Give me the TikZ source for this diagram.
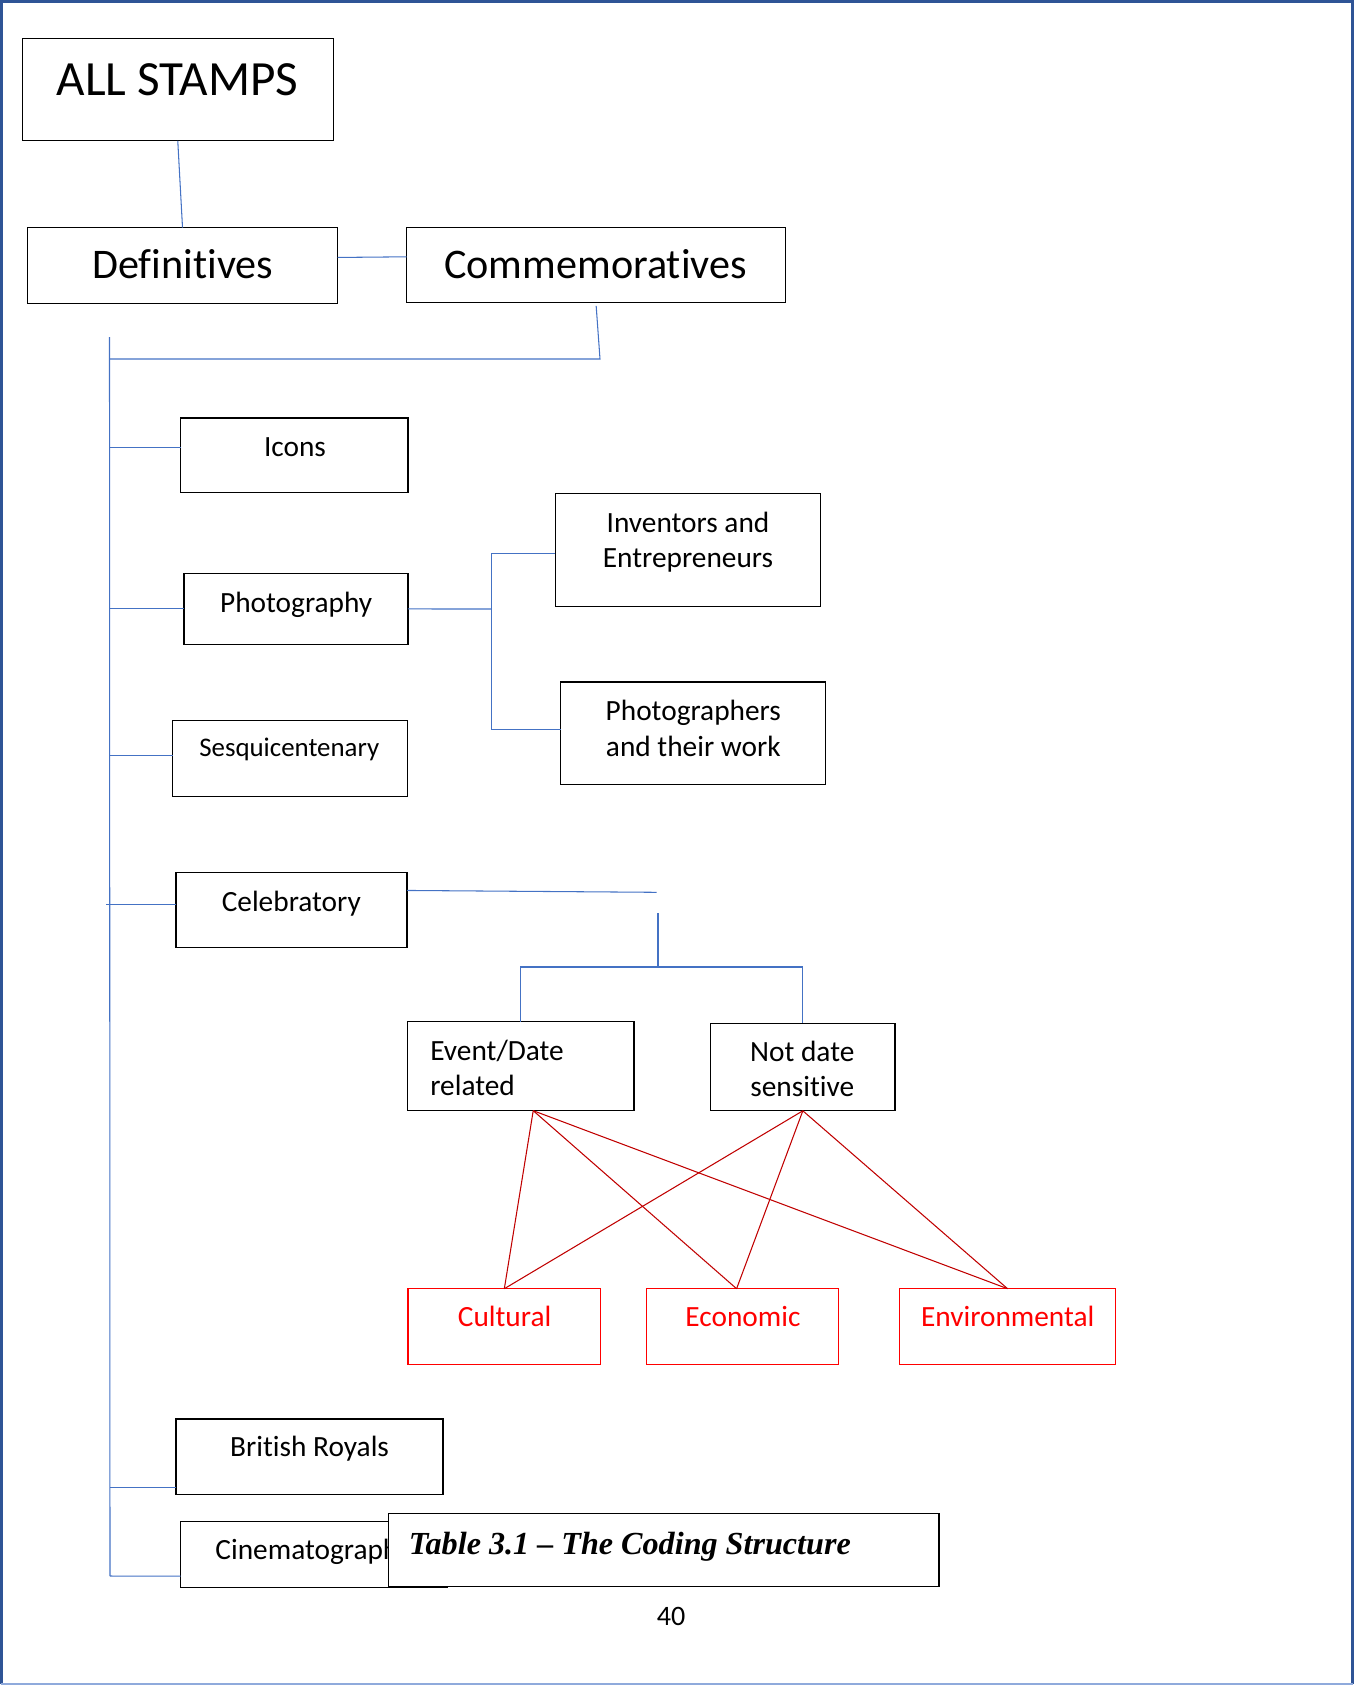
\documentclass[tikz,border=0pt]{standalone}
\usepackage{fontspec}
\setmainfont[Ligatures=NoCommon]{Carlito}
\newfontfamily\capfont{Liberation Serif}
\usepackage{tikz}
\usepackage{xcolor}
\definecolor{linkblue}{HTML}{4472C4}
\definecolor{pageblue}{HTML}{2F5496}
\definecolor{pagelight}{HTML}{8FAADC}
\definecolor{codered}{HTML}{FF0000}
\definecolor{tiered}{HTML}{C00000}

\begin{document}
\begin{tikzpicture}[x=0.02cm, y=-0.02cm,
    box/.style={draw=black, line width=0.75pt, inner sep=0pt, outer sep=0pt, anchor=north west},
    redbox/.style={box, draw=codered},
    link/.style={draw=linkblue, line width=0.6pt},
    tie/.style={draw=tiered, line width=0.6pt},
    txt/.style={inner sep=0pt, anchor=base, font=\fontsize{16.7}{20.1}\selectfont},
    redtxt/.style={txt, text=codered}]
                \useasboundingbox (0,0) rectangle (1354,1685);
                % Page frame
                \draw[pageblue, line width=1.5pt] (1.3,1684) -- (1.3,1.7) -- (1352.7,1.7) -- (1352.7,1684);
                \draw[pagelight, line width=0.8pt] (1.3,1684) -- (1352.7,1684);

                % Top of the tree
                \node[box, minimum width=6.22cm, minimum height=2.05cm] (allst) at (22.3,38.3) {};
                \node[box, minimum width=6.21cm, minimum height=1.51cm] (defin) at (27.3,227.7) {};
                \node[box, minimum width=7.58cm, minimum height=1.50cm] (comm) at (406.7,227.3) {};
                % Themes
                \node[box, minimum width=4.55cm, minimum height=1.49cm] (icons) at (180.7,418) {};
                \node[box, minimum width=4.48cm, minimum height=1.41cm] (photo) at (183.9,573.7) {};
                \node[box, minimum width=5.30cm, minimum height=2.26cm] (invent) at (555.4,493.3) {};
                \node[box, minimum width=5.30cm, minimum height=2.05cm] (photog) at (560.7,682) {};
                \node[box, minimum width=4.69cm, minimum height=1.52cm] (sesqui) at (172.8,720.3) {};
                \node[box, minimum width=4.62cm, minimum height=1.49cm] (celeb) at (176.1,872.7) {};
                \node[box, minimum width=4.53cm, minimum height=1.78cm] (event) at (407.5,1021.7) {};
                \node[box, minimum width=3.69cm, minimum height=1.75cm] (notdate) at (710.6,1023.3) {};
                \node[redbox, minimum width=3.85cm, minimum height=1.51cm] (cult) at (408.1,1288.7) {};
                \node[redbox, minimum width=3.84cm, minimum height=1.51cm] (econ) at (646.6,1288.7) {};
                \node[redbox, minimum width=4.32cm, minimum height=1.51cm] (envir) at (899.6,1288.7) {};
                \node[box, minimum width=5.34cm, minimum height=1.51cm] (royals) at (176.1,1419) {};
                \node[box, minimum width=5.33cm, minimum height=1.32cm] (cinema) at (180.7,1521.7) {};

                % Box texts (two line texts sit on their last line)
                \node[txt, font=\fontsize{28}{34}\selectfont] (allst-t) at (177.5,95) {ALL STAMPS};
                \node[txt, font=\fontsize{24}{29}\selectfont] (defin-t) at (182.8,278.3) {Definitives};
                \node[txt, font=\fontsize{24}{29}\selectfont] (comm-t) at (595.5,278.3) {Commemoratives};
                \node[txt] (icons-t) at (295,456) {Icons};
                \node[txt] (photo-t) at (296.2,612.7) {Photography};
                \node[txt, align=center] (invent-t) at (688,567.7) {Inventors and\\Entrepreneurs};
                \node[txt, align=center] (photog-t) at (693.3,756) {Photographers\\and their work};
                \node[txt, font=\fontsize{15.3}{18.4}\selectfont] (sesqui-t) at (289.3,756) {Sesquicentenary};
                \node[txt] (celeb-t) at (291.3,911.7) {Celebratory};
                \node[txt, anchor=base west, align=left] (event-t) at (430,1095.7) {Event/Date\\related};
                \node[txt, align=center] (notdate-t) at (802.3,1096.7) {Not date\\sensitive};
                \node[redtxt] (cult-t) at (504.6,1326.7) {Cultural};
                \node[redtxt] (econ-t) at (743,1326.7) {Economic};
                \node[redtxt] (envir-t) at (1007.7,1326.7) {Environmental};
                \node[txt] (royals-t) at (309.6,1456.7) {British Royals};
                \node[txt, anchor=base west] (cinema-t) at (215.1,1559.3) {Cinematography};

                % Tree links
                \draw[link] (allst.south) -- (defin.north);
                \draw[link] ([yshift=0.16cm]defin.east) -- ([yshift=0.16cm]comm.west);
                \coordinate (spinetop) at (109.5,337);
                \coordinate (spinebot) at (110,1576);
                \coordinate (commjoin) at (600,359);
                \draw[link] ([yshift=-0.07cm]comm.south) -- (commjoin) -- (commjoin -| spinetop);
                \draw[link] (spinetop) -- (spinebot);
                % spine branches
                \draw[link] ([yshift=0.15cm]icons.west) -- ([yshift=0.15cm]icons.west -| spinetop);
                \draw[link] (photo.west) -- (photo.west -| spinetop);
                \draw[link] ([yshift=0.05cm]sesqui.west) -- ([yshift=0.05cm]sesqui.west -| spinetop);
                \draw[link] ([yshift=0.11cm]celeb.west) -- ([xshift=-0.07cm,yshift=0.11cm]celeb.west -| spinetop);
                \draw[link] ([yshift=0.14cm]royals.south west) -- ([yshift=0.14cm]royals.south west -| spinetop);
                \draw[link] ([yshift=0.23cm]cinema.south west) -- (spinebot);
                % photography split
                \coordinate (photojoin) at (491.5,609);
                \draw[link] (photo.east) -- (photojoin);
                \draw[link] ([yshift=-0.08cm]invent.west) -| (photojoin) |- ([yshift=0.07cm]photog.west);
                % celebratory split
                \coordinate (celebend) at (656.5,892.3);
                \coordinate (celebtop) at (658,913.3);
                \coordinate (celebjoin) at (658,967);
                \draw[link] ([yshift=0.39cm]celeb.east) -- (celebend);
                \draw[link] (celebtop) -- (celebjoin);
                \draw[link] (event.north) |- (celebjoin) -| (notdate.north);

                % Red ties
                \draw[tie] ([xshift=0.25cm]event.south) -- (cult.north);
                \draw[tie] ([xshift=0.25cm]event.south) -- ([xshift=-0.12cm]econ.north);
                \draw[tie] ([xshift=0.25cm]event.south) -- (envir.north);
                \draw[tie] (notdate.south) -- (cult.north);
                \draw[tie] (notdate.south) -- ([xshift=-0.12cm]econ.north);
                \draw[tie] (notdate.south) -- (envir.north);

                % Caption over the last box
                \node[box, fill=white, minimum width=11.01cm, minimum height=1.45cm] (caption) at (388.5,1513.7) {};
                \node[txt, anchor=base west, font=\capfont\bfseries\itshape\fontsize{18.3}{22}\selectfont] (caption-t) at (408.6,1554) {Table 3.1 – The Coding Structure};
                \node[txt, font=\fontsize{16}{19}\selectfont] (pagenum) at (671,1625.3) {40};
\end{tikzpicture}
\end{document}
